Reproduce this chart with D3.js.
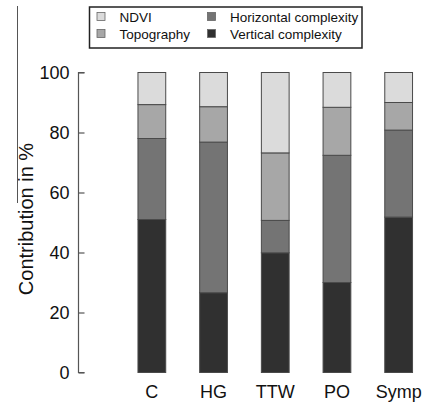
<!DOCTYPE html>
<html>
<head>
<meta charset="utf-8">
<script src="https://cdn.jsdelivr.net/npm/d3@7"></script>
<style>
  html, body { margin: 0; padding: 0; background: #fff; }
  text { font-family: "Liberation Sans", Arial, sans-serif; fill: #111; }
</style>
</head>
<body>
<svg id="chart" width="425" height="403"></svg>
<script>
// Data
const categories = ["C", "HG", "TTW", "PO", "Symp"];
const seriesNames = ["Vertical complexity", "Horizontal complexity", "Topography", "NDVI"];
const vertical   = [51.0, 26.6, 39.9, 30.0, 51.8];
const horizontal = [27.0, 50.2, 10.8, 42.4, 29.0];
const topography = [11.3, 11.8, 22.5, 16.0,  9.2];
const ndvi       = [10.7, 11.4, 26.8, 11.6, 10.0];
const yTicks = [0, 20, 40, 60, 80, 100];

const colors = {
  "Vertical complexity": "#303030",
  "Horizontal complexity": "#747474",
  "Topography": "#a7a7a7",
  "NDVI": "#dbdbdb"
};

const table = categories.map((c, i) => ({
  cat: c,
  "Vertical complexity": vertical[i],
  "Horizontal complexity": horizontal[i],
  "Topography": topography[i],
  "NDVI": ndvi[i]
}));

const svg = d3.select("#chart");

const y = d3.scaleLinear().domain([0, 100]).range([372.5, 72.5]);
const x = d3.scaleBand().domain(categories).range([121, 429.5]).paddingInner(0.55).paddingOuter(0.275);

const stack = d3.stack().keys(seriesNames);
const stacked = stack(table);

// bars
svg.append("g").selectAll("g").data(stacked).join("g")
  .attr("fill", d => colors[d.key])
  .selectAll("rect").data(d => d).join("rect")
  .attr("x", d => x(d.data.cat))
  .attr("width", x.bandwidth())
  .attr("y", d => y(d[1]))
  .attr("height", d => y(d[0]) - y(d[1]))
  .attr("stroke", "#4a4a4a")
  .attr("stroke-width", 1);

// y axis (ticks inward)
const yAxis = d3.axisRight(y).tickValues(yTicks).tickSize(6).tickFormat(d3.format("d"));
const gy = svg.append("g").attr("transform", "translate(78.5,0)").call(yAxis);
gy.select(".domain").attr("stroke", "#555").attr("stroke-width", 1.2)
  .attr("d", `M6,${y(100)}H0V${y(0)}H6`);
gy.selectAll(".tick line").attr("stroke", "#555").attr("stroke-width", 1.2);
gy.selectAll(".tick text")
  .attr("x", -9).attr("dy", "0.36em")
  .attr("text-anchor", "end")
  .style("font-size", "18px").style("font-family", "'Liberation Sans', Arial, sans-serif").attr("fill", "#111");

// x labels
const xAxis = d3.axisBottom(x).tickSize(0);
const gx = svg.append("g").attr("transform", "translate(0,372.5)").call(xAxis);
gx.select(".domain").remove();
gx.selectAll(".tick text")
  .attr("y", 25.5).attr("dy", 0)
  .style("font-size", "18px").style("font-family", "'Liberation Sans', Arial, sans-serif").attr("fill", "#111");

// y title
svg.append("text")
  .attr("transform", "translate(33,219) rotate(-90)")
  .attr("text-anchor", "middle")
  .style("font-size", "20px")
  .text("Contribution in %");

// stray crop line at left
svg.append("line").attr("x1", 17.5).attr("x2", 17.5).attr("y1", 6).attr("y2", 203)
  .attr("stroke", "#555").attr("stroke-width", 1);

// legend
const legend = svg.append("g");
legend.append("rect").attr("x", 89.5).attr("y", 7).attr("width", 272.5).attr("height", 41)
  .attr("fill", "#fff").attr("stroke", "#222").attr("stroke-width", 1.5);
const legendItems = [
  { name: "NDVI", col: 0, row: 0 },
  { name: "Topography", col: 0, row: 1 },
  { name: "Horizontal complexity", col: 1, row: 0 },
  { name: "Vertical complexity", col: 1, row: 1 }
];
const colX = [97, 207.5];
const rowY = [12.5, 29.5];
legendItems.forEach(it => {
  legend.append("rect")
    .attr("x", colX[it.col]).attr("y", rowY[it.row])
    .attr("width", 8).attr("height", 8)
    .attr("fill", colors[it.name]).attr("stroke", "#666").attr("stroke-width", 0.8);
  legend.append("text")
    .attr("x", colX[it.col] + 22.5).attr("y", rowY[it.row] + 9)
    .style("font-size", "13.5px")
    .text(it.name);
});
</script>
</body>
</html>
